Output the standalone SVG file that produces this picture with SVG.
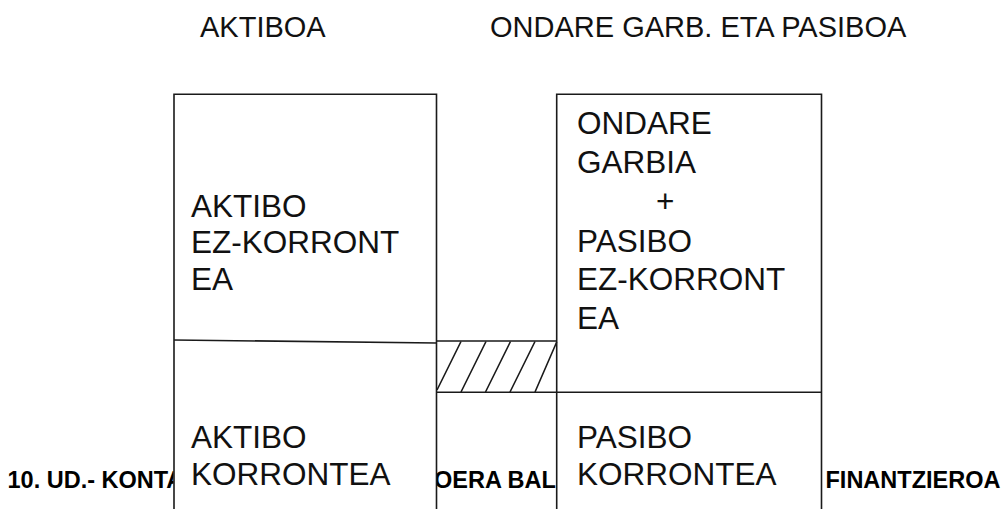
<svg xmlns="http://www.w3.org/2000/svg" width="1007" height="509" viewBox="0 0 1007 509">
<style>
.ln{fill:none;stroke:#1a1a1a;stroke-width:1.6}
.hd{font-family:"Liberation Sans",Arial,sans-serif;font-size:29px;fill:#111}
.bx{font-family:"Liberation Sans",Arial,sans-serif;font-size:31.5px;fill:#111}
.ft{font-family:"Liberation Sans",Arial,sans-serif;font-size:23.5px;font-weight:bold;fill:#000}
</style>
<defs>
<clipPath id="c1"><rect x="0" y="440" width="173.5" height="69"/></clipPath>
<clipPath id="c2"><rect x="437" y="440" width="119" height="69"/></clipPath>
<clipPath id="c3"><rect x="822.5" y="440" width="184.5" height="69"/></clipPath>
</defs>
<rect width="1007" height="509" fill="#fff"/>
<g id="headers">
<text class="hd" x="200" y="37">AKTIBOA</text>
<text class="hd" x="490" y="37">ONDARE GARB. ETA PASIBOA</text>
</g>
<g id="footer">
<text class="ft" x="7.5" y="488.3" clip-path="url(#c1)">10. UD.- KONTA</text>
<text class="ft" x="434" y="488.3" clip-path="url(#c2)">OERA BAL</text>
<text class="ft" x="825.5" y="488.3" clip-path="url(#c3)">FINANTZIEROA</text>
</g>
<g id="aktibo-ez-korrontea">
<path class="ln" d="M174,510 V94.3 H436.5 V510"/>
<text class="bx"><tspan x="191" y="217">AKTIBO</tspan><tspan x="191" y="253">EZ-KORRONT</tspan><tspan x="191" y="290">EA</tspan></text>
</g>
<g id="aktibo-korrontea">
<path class="ln" d="M174,340 L436.5,343"/>
<text class="bx"><tspan x="191" y="448">AKTIBO</tspan><tspan x="191" y="485">KORRONTEA</tspan></text>
</g>
<g id="ondare-garbia-pasibo-ez-korrontea">
<path class="ln" d="M556.7,510 V94.3 H821.5 V510"/>
<text class="bx"><tspan x="577" y="134">ONDARE</tspan><tspan x="577" y="173">GARBIA</tspan><tspan x="656" y="212">+</tspan><tspan x="577" y="251.5">PASIBO</tspan><tspan x="577" y="290">EZ-KORRONT</tspan><tspan x="577" y="329">EA</tspan></text>
</g>
<g id="pasibo-korrontea">
<path class="ln" d="M556.7,392.3 H821.5"/>
<text class="bx"><tspan x="577" y="448">PASIBO</tspan><tspan x="577" y="485">KORRONTEA</tspan></text>
</g>
<g id="hatch">
<path class="ln" d="M436.5,341 H556.7 M436.5,392.3 H556.7"/>
<path class="ln" d="M437,390 L461,341.5 M461,392 L486,341.5 M485.5,392 L510.5,341.5 M510,392 L535,341.5 M535,392 L556.7,342"/>
</g>
<g id="connectors"></g>
</svg>
